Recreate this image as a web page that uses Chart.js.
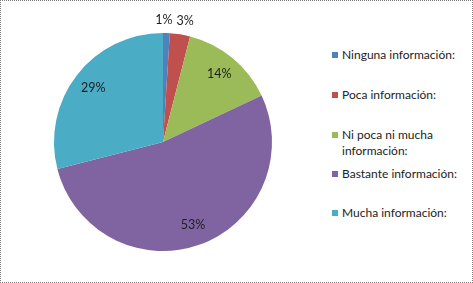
<!DOCTYPE html>
<html>
<head>
<meta charset="utf-8">
<script src="https://cdn.jsdelivr.net/npm/chart.js@4.4.1/dist/chart.umd.min.js"></script>
<style>
  html, body { margin: 0; padding: 0; background: #fff; }
  #wrap { position: relative; width: 473px; height: 283px; box-sizing: border-box; border: 1px dotted #7a7a7a; overflow: hidden; }
  #pieBox { position: absolute; left: -1px; top: -1px; width: 330px; height: 283px; }
  #legend { position: absolute; left: 0; top: 0; font-family: Lato, "Liberation Sans", sans-serif; font-size: 12px; color: #222; }
  .item { position: absolute; left: 341px; line-height: 16px; white-space: nowrap; }
  .item .sw { position: absolute; left: -10px; top: 5px; width: 6px; height: 6px; }
</style>
</head>
<body>
<div id="wrap">
  <div id="pieBox"><canvas id="pie"></canvas></div>
  <div id="legend"></div>
</div>
<script>
// Data
const categories = ['Ninguna información:', 'Poca información:', 'Ni poca ni mucha información:', 'Bastante información:', 'Mucha información:'];
const legendLines = [['Ninguna información:'], ['Poca información:'], ['Ni poca ni mucha', 'información:'], ['Bastante información:'], ['Mucha información:']];
const percentages = [1, 3, 14, 53, 29];
const sliceColors = ['#4F81BD', '#C0504D', '#9BBB59', '#8064A2', '#4BACC6'];

// percent labels drawn on / next to each slice
const sliceLabels = {
  id: 'sliceLabels',
  afterDatasetsDraw(chart) {
    const ctx = chart.ctx;
    const meta = chart.getDatasetMeta(0);
    ctx.save();
    ctx.font = '12.5px Lato, "Liberation Sans", sans-serif';
    ctx.fillStyle = '#1e1e1e';
    ctx.textAlign = 'center';
    ctx.textBaseline = 'middle';
    const labels = meta.data.map((arc, i) => {
      const p = arc.getProps(['x', 'y', 'startAngle', 'endAngle', 'outerRadius'], true);
      const mid = (p.startAngle + p.endAngle) / 2;
      const txt = percentages[i] + '%';
      const outside = percentages[i] < 5;
      const r = outside ? p.outerRadius * 1.12 : p.outerRadius * 0.81;
      return { txt, outside, w: ctx.measureText(txt).width, x: p.x + Math.cos(mid) * r, y: p.y + Math.sin(mid) * r };
    });
    // push overlapping outside labels apart, splitting the shift
    const outs = labels.filter(l => l.outside);
    for (let k = 1; k < outs.length; k++) {
      const a = outs[k - 1], b = outs[k];
      const need = (a.w + b.w) / 2 + 4 - (b.x - a.x);
      if (need > 0) { a.x -= need / 2; b.x += need / 2; }
    }
    labels.forEach(l => ctx.fillText(l.txt, l.x, l.y));
    ctx.restore();
  }
};

new Chart(document.getElementById('pie').getContext('2d'), {
  type: 'pie',
  data: {
    labels: categories,
    datasets: [{
      data: percentages,
      backgroundColor: sliceColors,
      borderWidth: 0
    }]
  },
  options: {
    responsive: true,
    maintainAspectRatio: false,
    animation: false,
    layout: { padding: { top: 33, bottom: 32, left: 54, right: 58 } },
    plugins: { legend: { display: false }, tooltip: { enabled: false } }
  },
  plugins: [sliceLabels]
});

// legend on the right
const legendTops = [46, 86, 126, 165, 204];
const legendEl = document.getElementById('legend');
legendLines.forEach((lines, i) => {
  const d = document.createElement('div');
  d.className = 'item';
  d.style.top = legendTops[i] + 'px';
  d.innerHTML = `<span class="sw" style="background:${sliceColors[i]}"></span>${lines.join('<br>')}`;
  legendEl.appendChild(d);
});
</script>
</body>
</html>
